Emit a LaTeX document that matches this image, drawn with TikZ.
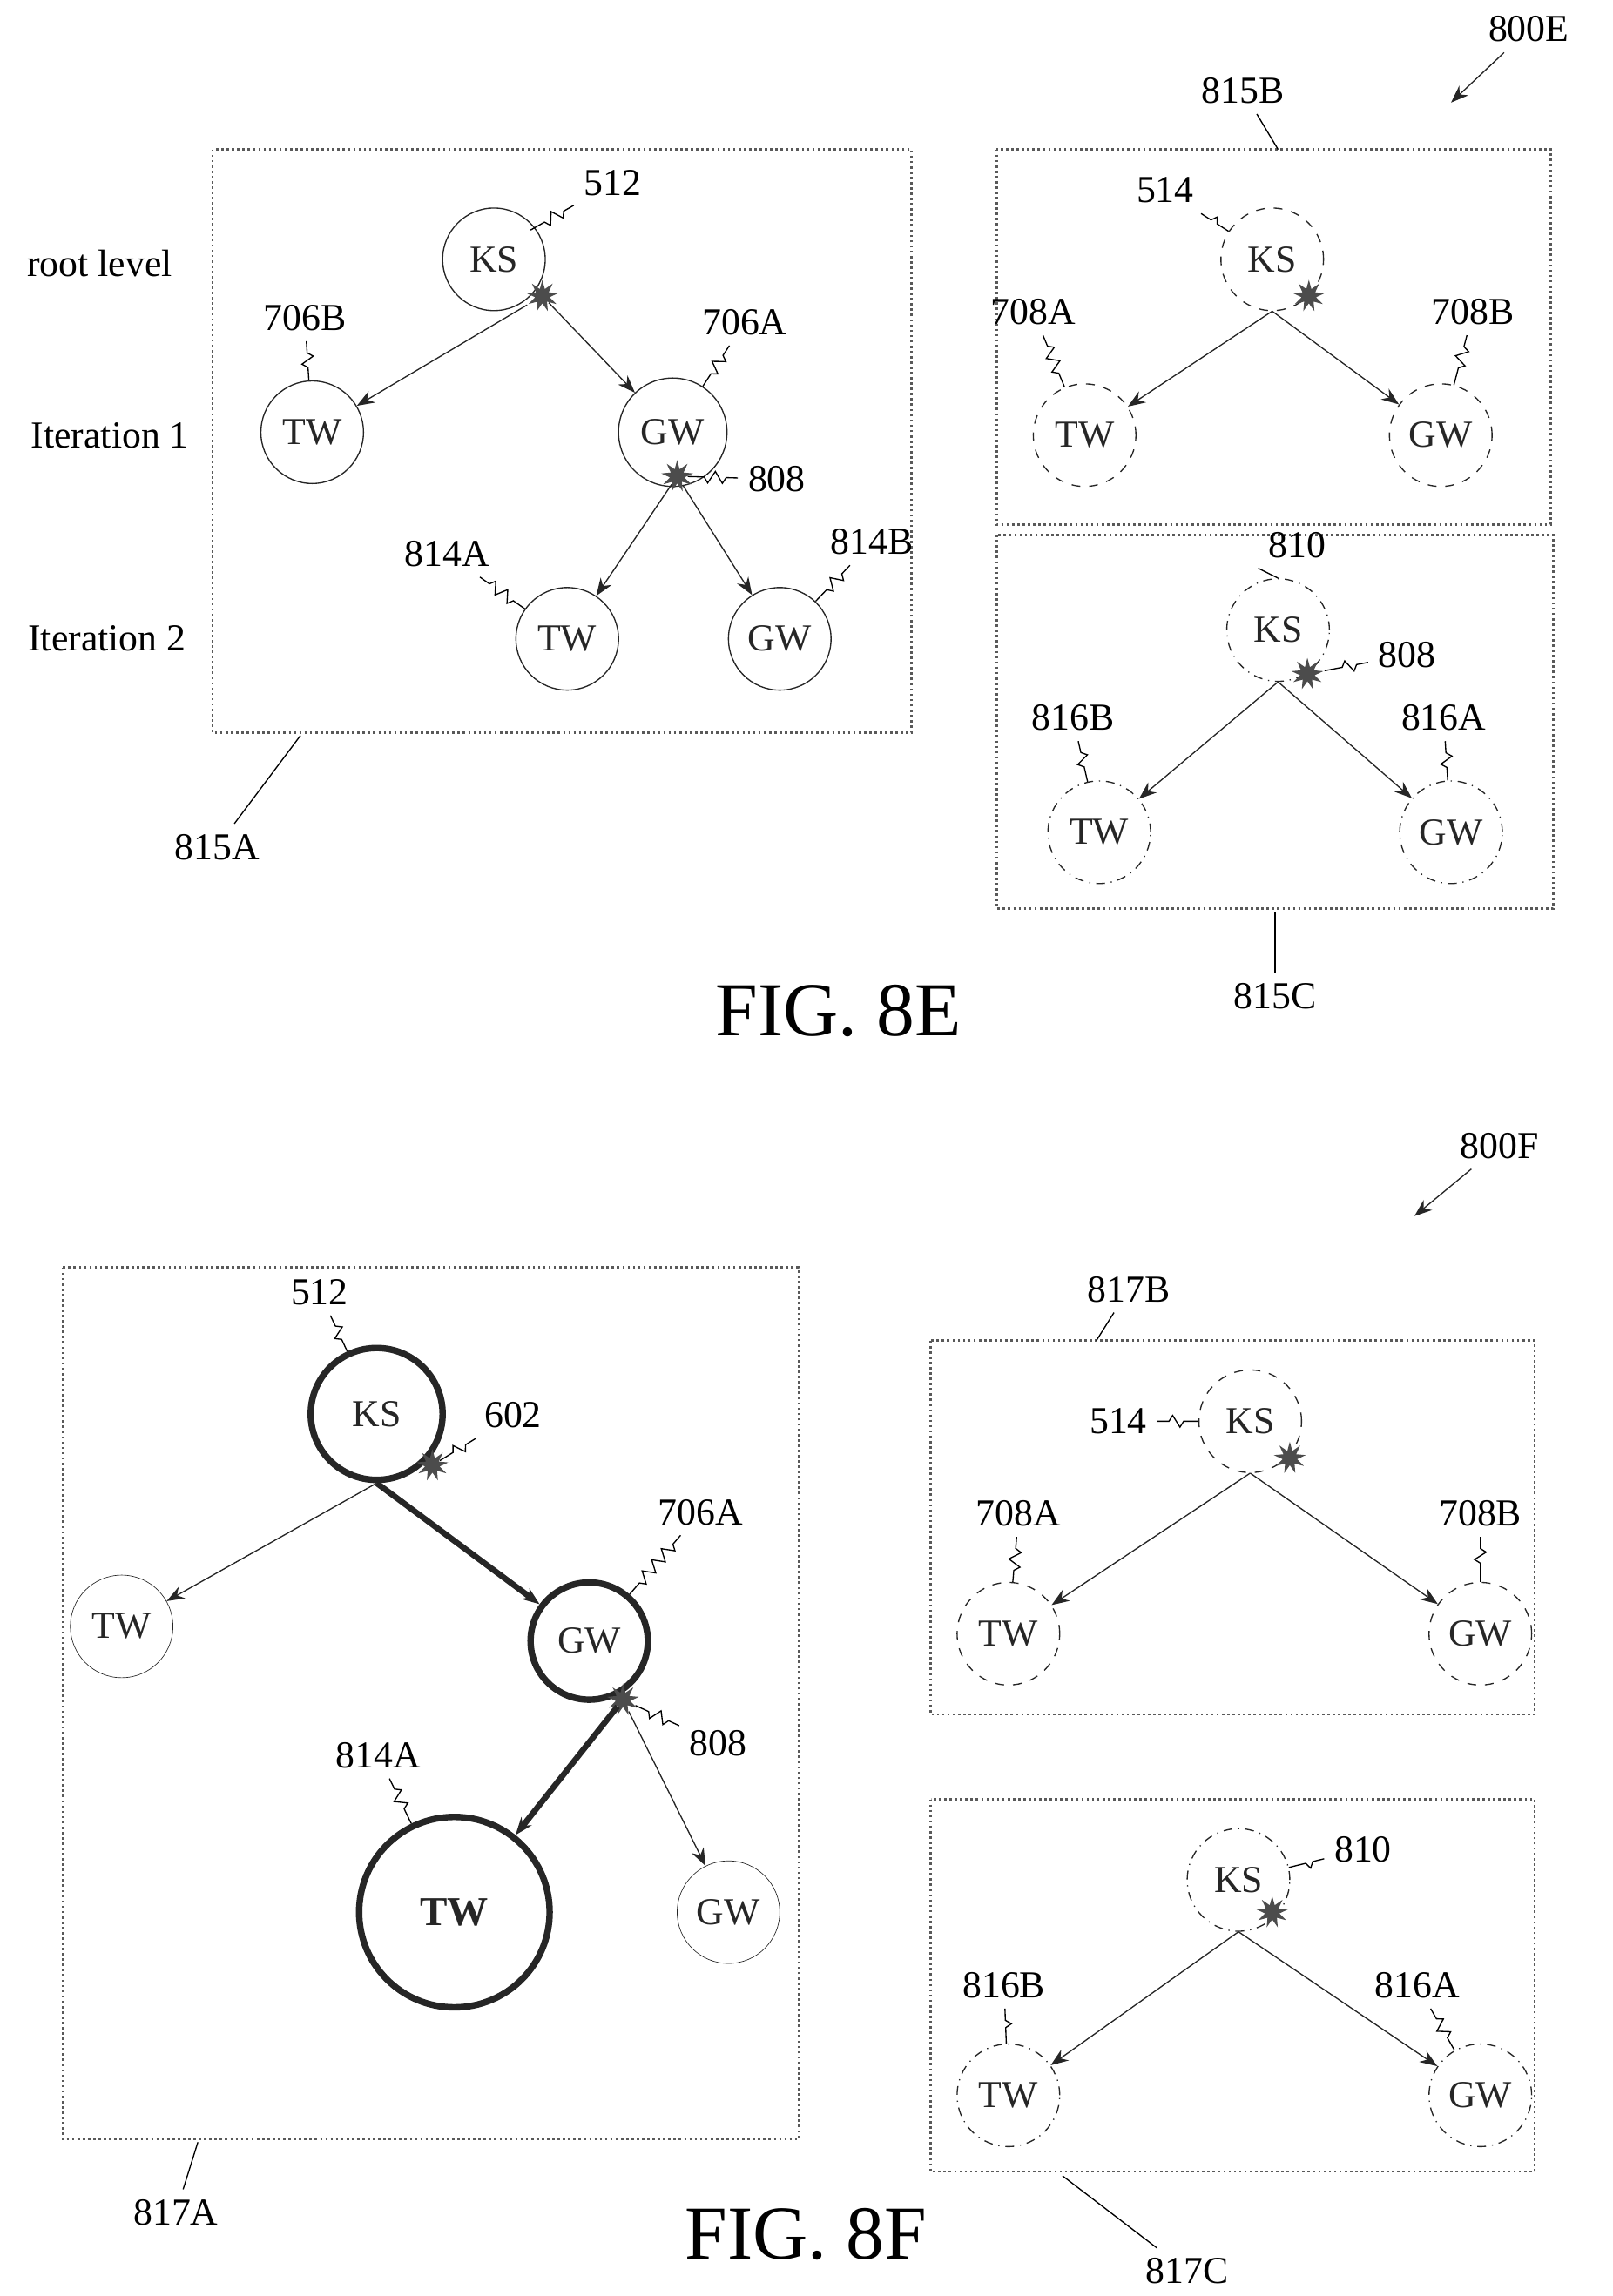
\documentclass[tikz,border=0pt]{standalone}
\usepackage{fontspec}
\setmainfont{Liberation Serif}
\usetikzlibrary{shapes.geometric,decorations.pathmorphing,arrows.meta}
\begin{document}
\begin{tikzpicture}
    [ x = .5pt, y = -.5pt
    , font = \fontsize{13}{15}\selectfont
    , frame/.style =
      { draw, densely dotted, thick, gray!70!black }
    , vertex/.style =
      { draw, circle, minimum size=35pt, inner sep=0pt, gray!30!black }
    , dashvertex/.style =
      { vertex, dashed }
    , dashdot/.style =
      { vertex, dash dot }
    , heavy/.style =
      { vertex, line width=2.2pt }
    , burst/.style =
      { star, star points=9, star point ratio=2.2, fill=black!70, minimum size=11pt, inner sep=0pt }
    , edge/.style =
      { -{Stealth[length=6pt]}, gray!30!black }
    , lead/.style =
      { decorate, decoration={zigzag, amplitude=2pt, segment length=5pt, pre length=4pt, post length=4pt} }
    , fig/.style =
      { font=\fontsize{26}{30}\selectfont }
    ]
    \useasboundingbox (0,0) rectangle (1100,1567);

    % FIG. 8E, left
    \draw [frame] (145,102) rectangle (622,500);
    \node (root) at (68,180) {root level};
    \node (it1) at (75,297) {Iteration 1};
    \node (it2) at (73,436) {Iteration 2};
    \node [vertex] (ks) at (337,177) {KS};
    \node [vertex] (tw) at (213,295) {TW};
    \node [vertex, minimum size=37pt] (gw) at (459,295) {GW};
    \node [vertex] (tw2) at (387,436) {TW};
    \node [vertex] (gw2) at (532,436) {GW};
    \node [burst] (s1) at (370,202) {};
    \node [burst] (s2) at (462,325) {};
    \draw [edge] (s1) -- (tw);
    \draw [edge] (s1) -- (gw);
    \draw [edge] (s2) -- (tw2);
    \draw [edge] (s2) -- (gw2);
    \node (l512) at (418,125) {512};
    \node (l706b) at (208,217) {706B};
    \node (l706a) at (508,220) {706A};
    \node (l808) at (530,327) {808};
    \node (l814a) at (305,378) {814A};
    \node (l814b) at (595,370) {814B};
    \node (l815a) at (148,578) {815A};
    \coordinate (c815a) at (205,502);
    \draw [lead] (l512) -- (362,157);
    \draw [lead] (l706b) -- (tw);
    \draw [lead] (l706a) -- (gw);
    \draw [lead] (l808) -- (s2);
    \draw [lead] (l814a) -- (tw2);
    \draw [lead] (l814b) -- (gw2);
    \draw (l815a) -- (c815a);

    % FIG. 8E, right top
    \draw [frame] (680,102) rectangle (1058,358);
    \node [dashvertex] (ksb) at (868,177) {KS};
    \node [dashvertex] (twb) at (740,297) {TW};
    \node [dashvertex] (gwb) at (983,297) {GW};
    \node [burst] (s3) at (893,202) {};
    \draw [edge] (ksb.south) -- (twb);
    \draw [edge] (ksb.south) -- (gwb);
    \node (l815b) at (848,62) {815B};
    \node (l514) at (795,130) {514};
    \node (l708a) at (705,213) {708A};
    \node (l708b) at (1005,213) {708B};
    \node (l800e) at (1043,20) {800E};
    \coordinate (c815b) at (872,102);
    \coordinate (a800e) at (990,70);
    \draw (l815b) -- (c815b);
    \draw [lead] (l514) -- (ksb);
    \draw [lead] (l708a) -- (twb);
    \draw [lead] (l708b) -- (gwb);
    \draw [edge] (l800e) -- (a800e);

    % FIG. 8E, right bottom
    \draw [frame] (680,365) rectangle (1060,620);
    \node [dashdot] (ksc) at (872,430) {KS};
    \node [dashdot] (twc) at (750,568) {TW};
    \node [dashdot] (gwc) at (990,568) {GW};
    \node [burst] (s4) at (892,460) {};
    \draw [edge] (ksc.south) -- (twc);
    \draw [edge] (ksc.south) -- (gwc);
    \node (l810) at (885,372) {810};
    \node (l808b) at (960,447) {808};
    \node (l816b) at (732,490) {816B};
    \node (l816a) at (985,490) {816A};
    \node (l815c) at (870,680) {815C};
    \coordinate (c815c) at (870,622);
    \draw (l810.south west) -- (ksc.north);
    \draw [lead] (l808b) -- (s4);
    \draw [lead] (l816b) -- (twc);
    \draw [lead] (l816a) -- (gwc);
    \draw (l815c) -- (c815c);
    \node [fig] (f8e) at (572,690) {FIG. 8E};

    % FIG. 8F, left
    \draw [frame] (43,865) rectangle (545,1460);
    \node [heavy, minimum size=45pt] (ksd) at (257,965) {KS};
    \node [vertex, very thin] (twd) at (83,1110) {TW};
    \node [heavy, minimum size=40pt] (gwd) at (402,1120) {GW};
    \node [heavy, minimum size=65pt, font=\fontsize{14}{16}\selectfont\bfseries] (twe) at (310,1305) {TW};
    \node [vertex, very thin] (gwe) at (497,1305) {GW};
    \node [burst] (s5) at (295,1000) {};
    \node [burst] (s6) at (425,1160) {};
    \draw [edge] (ksd.south) -- (twd);
    \draw [edge, line width=2pt] (ksd.south) -- (gwd);
    \draw [edge, line width=2pt] (s6) -- (twe);
    \draw [edge] (s6) -- (gwe);
    \node (l512b) at (218,882) {512};
    \node (l602) at (350,966) {602};
    \node (l706a2) at (478,1032) {706A};
    \node (l8082) at (490,1190) {808};
    \node (l814a2) at (258,1198) {814A};
    \node (l817a) at (120,1510) {817A};
    \coordinate (c817a) at (135,1462);
    \draw [lead] (l512b) -- (ksd);
    \draw [lead] (l602) -- (s5);
    \draw [lead] (l706a2) -- (gwd);
    \draw [lead] (l8082) -- (s6);
    \draw [lead] (l814a2) -- (twe);
    \draw (l817a) -- (c817a);

    % FIG. 8F, right top
    \draw [frame] (635,915) rectangle (1047,1170);
    \node [dashvertex] (ksf) at (853,970) {KS};
    \node [dashvertex] (twf) at (688,1115) {TW};
    \node [dashvertex] (gwf) at (1010,1115) {GW};
    \node [burst] (s7) at (880,995) {};
    \draw [edge] (ksf.south) -- (twf);
    \draw [edge] (ksf.south) -- (gwf);
    \node (l817b) at (770,880) {817B};
    \node (l5142) at (763,970) {514};
    \node (l708a2) at (695,1033) {708A};
    \node (l708b2) at (1010,1033) {708B};
    \node (l800f) at (1023,782) {800F};
    \coordinate (c817b) at (748,915);
    \coordinate (a800f) at (965,830);
    \draw (l817b) -- (c817b);
    \draw [lead] (l5142) -- (ksf);
    \draw [lead] (l708a2) -- (twf);
    \draw [lead] (l708b2) -- (gwf);
    \draw [edge] (l800f) -- (a800f);

    % FIG. 8F, right bottom
    \draw [frame] (635,1228) rectangle (1047,1482);
    \node [dashdot] (ksg) at (845,1283) {KS};
    \node [dashdot] (twg) at (688,1430) {TW};
    \node [dashdot] (gwg) at (1010,1430) {GW};
    \node [burst] (s8) at (868,1305) {};
    \draw [edge] (ksg.south) -- (twg);
    \draw [edge] (ksg.south) -- (gwg);
    \node (l8102) at (930,1262) {810};
    \node (l816b2) at (685,1355) {816B};
    \node (l816a2) at (967,1355) {816A};
    \node (l817c) at (810,1550) {817C};
    \coordinate (c817c) at (725,1485);
    \draw [lead] (l8102) -- (ksg);
    \draw [lead] (l816b2) -- (twg);
    \draw [lead] (l816a2) -- (gwg);
    \draw (l817c) -- (c817c);
    \node [fig] (f8f) at (550,1525) {FIG. 8F};
\end{tikzpicture}
\end{document}
